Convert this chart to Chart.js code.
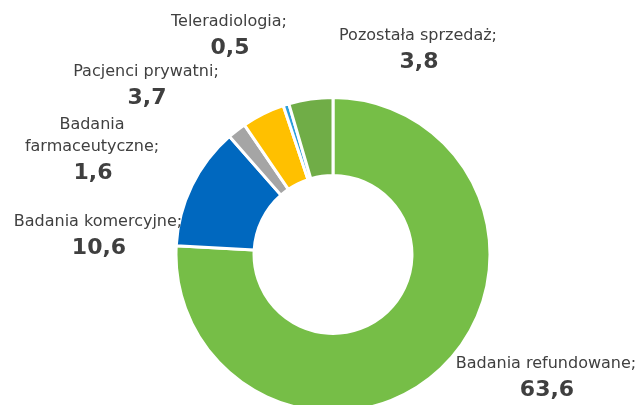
<!DOCTYPE html>
<html>
<head>
<meta charset="utf-8">
<script src="https://cdn.jsdelivr.net/npm/chart.js@4/dist/chart.umd.min.js"></script>
<style>
  html, body { margin: 0; padding: 0; background: #ffffff; }
  #wrap { width: 641px; height: 405px; position: relative; }
</style>
</head>
<body>
<div id="wrap"><canvas id="c" width="641" height="405"></canvas></div>
<script>
// ---- data ----
const categories = [
  ["Badania refundowane;"],
  ["Badania komercyjne;"],
  ["Badania", "farmaceutyczne;"],
  ["Pacjenci prywatni;"],
  ["Teleradiologia;"],
  ["Pozostała sprzedaż;"]
];
const values = [63.6, 10.6, 1.6, 3.7, 0.5, 3.8];
const colors = ["#76BE47", "#0068BF", "#A5A5A5", "#FFC000", "#2B9EDB", "#70AD47"];

// ---- label layout (anchor of each callout: x, y of first line) ----
const labelAnchors = [
  [546, 364],
  [98, 222],
  [92, 125],
  [146, 72],
  [229, 22],
  [418, 36]
];

const calloutPlugin = {
  id: 'callouts',
  afterDatasetsDraw(chart) {
    const ctx = chart.ctx;
    ctx.save();
    ctx.textAlign = 'center';
    ctx.textBaseline = 'middle';
    categories.forEach((lines, i) => {
      const [x, y] = labelAnchors[i];
      ctx.fillStyle = '#404040';
      ctx.font = '16px "DejaVu Sans"';
      lines.forEach((t, k) => ctx.fillText(t, x, y + k * 22));
      ctx.font = 'bold 22px "DejaVu Sans"';
      ctx.fillStyle = '#3F3F3F';
      const vy = y + (lines.length - 1) * 22 + 26;
      ctx.fillText(values[i].toFixed(1).replace('.', ','), x + 1, vy);
    });
    ctx.restore();
  }
};

new Chart(document.getElementById('c'), {
  type: 'doughnut',
  data: {
    labels: categories.map(l => l.join(' ')),
    datasets: [{
      data: values,
      backgroundColor: colors,
      borderColor: '#ffffff',
      borderWidth: 3,
      clip: false
    }]
  },
  options: {
    responsive: false,
    animation: false,
    radius: 157,
    cutout: '50.3%',
    layout: { padding: { left: 25, right: 0, top: 104, bottom: 0 } },
    plugins: {
      legend: { display: false },
      tooltip: { enabled: false }
    }
  },
  plugins: [calloutPlugin]
});
</script>
</body>
</html>
